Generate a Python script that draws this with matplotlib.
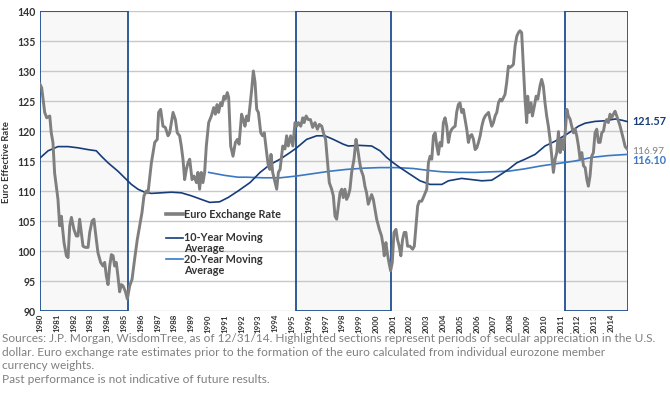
import matplotlib
matplotlib.use("Agg")
import matplotlib.pyplot as plt
from matplotlib.lines import Line2D

# Euro exchange rate (monthly-ish readings, decimal year)
rate_years = [1980.0, 1980.1, 1980.28, 1980.4, 1980.58, 1980.67, 1980.77, 1980.87, 1981.07, 1981.17,
              1981.27, 1981.43, 1981.57, 1981.67, 1981.77, 1981.87, 1982.02, 1982.16, 1982.26, 1982.36,
              1982.46, 1982.56, 1982.7, 1982.86, 1982.96, 1983.1, 1983.21, 1983.3, 1983.45, 1983.61,
              1983.75, 1983.85, 1983.95, 1984.05, 1984.15, 1984.25, 1984.35, 1984.44, 1984.54, 1984.64,
              1984.74, 1984.84, 1984.94, 1985.08, 1985.2, 1985.34, 1985.48, 1985.63, 1985.79, 1985.93,
              1986.07, 1986.19, 1986.33, 1986.43, 1986.63, 1986.83, 1986.98, 1987.06, 1987.18, 1987.32,
              1987.46, 1987.62, 1987.72, 1987.82, 1987.92, 1988.06, 1988.17, 1988.31, 1988.41, 1988.51,
              1988.61, 1988.71, 1988.81, 1988.91, 1989.05, 1989.17, 1989.31, 1989.4, 1989.5, 1989.6,
              1989.7, 1989.8, 1989.9, 1990.04, 1990.2, 1990.34, 1990.44, 1990.54, 1990.63, 1990.75,
              1990.83, 1990.95, 1991.03, 1991.15, 1991.23, 1991.35, 1991.49, 1991.63, 1991.75, 1991.85,
              1992.0, 1992.1, 1992.2, 1992.3, 1992.4, 1992.5, 1992.6, 1992.7, 1992.8, 1992.9,
              1993.0, 1993.14, 1993.25, 1993.35, 1993.49, 1993.59, 1993.68, 1993.75, 1993.85, 1993.95,
              1994.09, 1994.19, 1994.29, 1994.45, 1994.58, 1994.68, 1994.78, 1994.92, 1995.05, 1995.18,
              1995.28, 1995.38, 1995.52, 1995.64, 1995.72, 1995.84, 1995.97, 1996.1, 1996.23, 1996.37,
              1996.51, 1996.63, 1996.77, 1996.87, 1997.0, 1997.1, 1997.22, 1997.36, 1997.46, 1997.56,
              1997.66, 1997.76, 1997.86, 1997.96, 1998.05, 1998.15, 1998.25, 1998.35, 1998.45, 1998.55,
              1998.69, 1998.81, 1998.91, 1999.0, 1999.1, 1999.24, 1999.34, 1999.44, 1999.54, 1999.64,
              1999.74, 1999.84, 1999.94, 2000.04, 2000.2, 2000.33, 2000.43, 2000.49, 2000.59, 2000.67,
              2000.77, 2000.87, 2000.97, 2001.07, 2001.19, 2001.28, 2001.38, 2001.48, 2001.58, 2001.68,
              2001.78, 2001.88, 2002.02, 2002.18, 2002.28, 2002.38, 2002.48, 2002.58, 2002.72, 2002.86,
              2003.02, 2003.12, 2003.22, 2003.32, 2003.42, 2003.52, 2003.62, 2003.71, 2003.81, 2003.91,
              2004.01, 2004.11, 2004.21, 2004.31, 2004.41, 2004.51, 2004.61, 2004.71, 2004.8, 2004.9,
              2005.0, 2005.1, 2005.2, 2005.3, 2005.4, 2005.5, 2005.6, 2005.7, 2005.8, 2005.9,
              2006.0, 2006.1, 2006.2, 2006.3, 2006.4, 2006.5, 2006.6, 2006.7, 2006.79, 2006.89,
              2006.99, 2007.09, 2007.19, 2007.29, 2007.39, 2007.49, 2007.59, 2007.68, 2007.78, 2007.88,
              2007.98, 2008.08, 2008.18, 2008.28, 2008.38, 2008.48, 2008.57, 2008.67, 2008.77, 2008.87,
              2008.97, 2009.03, 2009.11, 2009.23, 2009.31, 2009.43, 2009.53, 2009.63, 2009.76, 2009.86,
              2009.96, 2010.06, 2010.16, 2010.26, 2010.36, 2010.46, 2010.56, 2010.66, 2010.76, 2010.86,
              2010.96, 2011.06, 2011.16, 2011.26, 2011.36, 2011.45, 2011.55, 2011.65, 2011.75, 2011.85,
              2011.95, 2012.05, 2012.15, 2012.25, 2012.35, 2012.45, 2012.55, 2012.64, 2012.74, 2012.84,
              2012.94, 2013.04, 2013.14, 2013.24, 2013.34, 2013.44, 2013.54, 2013.63, 2013.73, 2013.83,
              2013.93, 2014.03, 2014.13, 2014.23, 2014.33, 2014.43, 2014.53, 2014.63, 2014.73, 2014.83,
              2014.96]
rate_values = [127.8, 127.2, 123.1, 122.2, 122.5, 119.7, 118.1, 113.0, 108.6, 104.2,
               105.8, 101.4, 99.2, 98.9, 104.2, 105.6, 103.6, 102.5, 102.5, 105.3,
               103.1, 100.8, 100.6, 100.6, 103.1, 105.0, 105.3, 103.1, 99.7, 98.1,
               97.5, 98.1, 95.8, 94.4, 97.5, 99.4, 99.2, 97.5, 98.1, 95.8,
               93.2, 94.4, 94.2, 93.3, 92.0, 94.2, 95.3, 98.6, 101.9, 104.2,
               106.4, 109.2, 110.0, 109.7, 114.7, 118.1, 118.6, 123.1, 123.6, 120.8,
               120.6, 119.2, 119.7, 121.4, 123.1, 121.9, 119.7, 119.2, 117.5, 115.3,
               111.9, 113.6, 114.7, 115.3, 111.9, 112.5, 111.4, 113.1, 110.3, 113.1,
               111.4, 113.1, 117.5, 121.4, 122.5, 123.9, 122.8, 124.4, 123.1, 124.7,
               124.2, 125.8, 125.3, 126.4, 125.6, 117.5, 115.8, 118.1, 118.6, 117.8,
               122.8, 121.9, 120.8, 122.5, 121.7, 124.2, 126.9, 130.0, 128.1, 123.6,
               123.1, 119.7, 119.2, 119.7, 116.4, 114.2, 113.6, 116.1, 113.1, 111.9,
               110.3, 113.1, 113.6, 117.5, 117.0, 119.2, 117.5, 119.2, 117.5, 121.4,
               120.8, 121.4, 120.8, 122.2, 121.4, 122.5, 121.9, 121.9, 120.6, 121.4,
               120.3, 121.1, 120.8, 119.7, 118.6, 115.3, 111.4, 110.3, 109.2, 105.8,
               105.3, 107.5, 109.7, 110.3, 108.9, 110.3, 108.6, 109.2, 110.3, 113.1,
               115.3, 118.6, 117.0, 115.3, 113.6, 112.5, 110.8, 109.7, 107.8, 108.6,
               109.4, 108.6, 106.9, 105.3, 103.6, 102.5, 100.8, 99.2, 101.4, 99.7,
               98.1, 96.7, 98.1, 103.1, 103.6, 101.9, 100.8, 99.2, 101.9, 103.1,
               103.1, 100.8, 100.8, 100.3, 100.8, 104.2, 107.5, 108.3, 108.3, 109.2,
               110.3, 114.7, 115.8, 115.3, 119.2, 119.7, 117.5, 116.1, 118.1, 117.5,
               121.4, 122.2, 120.8, 118.1, 119.7, 120.3, 120.6, 120.8, 123.1, 124.4,
               124.7, 123.1, 123.6, 121.9, 120.3, 118.1, 119.2, 119.4, 118.6, 116.9,
               117.2, 118.1, 119.2, 120.8, 121.9, 122.5, 122.8, 123.1, 121.9, 120.8,
               121.4, 122.5, 123.1, 124.7, 125.3, 125.0, 125.6, 126.1, 128.1, 130.8,
               130.6, 130.8, 131.1, 134.2, 135.8, 136.4, 136.7, 136.4, 130.8, 125.3,
               121.4, 125.8, 123.1, 124.7, 122.5, 124.2, 125.8, 125.3, 127.5, 128.6,
               127.5, 124.7, 122.5, 120.8, 118.6, 115.8, 113.1, 115.3, 116.4, 119.9,
               116.4, 118.6, 116.9, 119.7, 123.6, 122.5, 122.0, 120.8, 119.7, 120.3,
               119.2, 117.5, 115.3, 116.4, 114.2, 113.9, 111.9, 110.8, 112.5, 115.8,
               116.4, 119.7, 120.3, 118.1, 118.1, 119.7, 120.0, 121.4, 121.9, 121.4,
               122.8, 122.2, 122.8, 123.3, 122.5, 121.7, 120.8, 119.7, 118.6, 117.4,
               116.97]

# 10-year moving average
ma10_years = [1980.0, 1980.48, 1981.07, 1981.67, 1982.26, 1982.86, 1983.35, 1983.65, 1984.05, 1984.64,
              1985.04, 1985.44, 1985.83, 1986.23, 1986.63, 1987.22, 1987.82, 1988.41, 1989.01, 1989.6,
              1990.1, 1990.69, 1991.19, 1991.79, 1992.5, 1993.1, 1993.69, 1994.29, 1994.88, 1995.28,
              1995.87, 1996.47, 1996.96, 1997.46, 1998.05, 1998.35, 1999.04, 1999.74, 2000.24, 2000.63,
              2001.03, 2001.43, 2002.02, 2002.62, 2003.21, 2003.92, 2004.31, 2005.1, 2005.7, 2006.3,
              2006.89, 2007.29, 2007.88, 2008.38, 2008.87, 2009.47, 2010.06, 2010.66, 2011.26, 2011.65,
              2012.05, 2012.45, 2013.04, 2013.63, 2014.23, 2014.63, 2014.96]
ma10_values = [115.5, 116.7, 117.4, 117.4, 117.2, 116.9, 116.7, 115.8, 114.7, 113.3,
               112.2, 111.1, 110.3, 109.8, 109.6, 109.7, 109.8, 109.7, 109.2, 108.6,
               108.1, 108.2, 108.9, 110.0, 111.4, 113.1, 114.4, 115.3, 116.4, 117.2,
               118.6, 119.2, 119.2, 118.6, 117.8, 117.5, 117.6, 117.5, 116.7, 115.6,
               114.7, 113.9, 112.8, 111.7, 111.1, 111.1, 111.7, 112.1, 111.9, 111.7,
               111.8, 112.5, 113.6, 114.7, 115.3, 116.1, 117.5, 118.3, 119.3, 120.0,
               120.8, 121.3, 121.6, 121.7, 122.0, 121.8, 121.57]

# 20-year moving average
ma20_years = [1990.04, 1991.0, 1991.79, 1992.3, 1993.29, 1994.29, 1995.28, 1996.27, 1997.26, 1998.25,
              1999.24, 2000.24, 2001.23, 2002.22, 2003.21, 2003.92, 2004.9, 2005.9, 2006.89, 2007.88,
              2008.87, 2009.86, 2010.86, 2011.85, 2012.84, 2013.83, 2014.96]
ma20_values = [113.1, 112.6, 112.3, 112.3, 112.2, 112.2, 112.5, 112.9, 113.3, 113.6,
               113.8, 113.9, 113.9, 113.75, 113.4, 113.2, 113.1, 113.1, 113.2, 113.3,
               113.7, 114.2, 114.6, 115.0, 115.6, 115.9, 116.10]

# periods of USD appreciation (highlighted)
box_starts = [1980.0, 1995.22, 2011.27]
box_ends = [1985.23, 2000.87, 2015.0]

year_ticks = list(range(1980, 2015))
y_ticks = list(range(90, 141, 5))

GRAY = "#7f7f7f"
NAVY = "#163d7a"
LBLUE = "#3b78c4"
BOXC = "#1f4f8f"
TXT = "#333333"
FONT = "Lato"

fig = plt.figure(figsize=(6.7, 4.14), dpi=100)
ax = fig.add_axes([40 / 670, 1 - 312 / 414, 588 / 670, 300 / 414])

for s, e in zip(box_starts, box_ends):
    ax.axvspan(s, e, facecolor="#f8f8f8", edgecolor="none", zorder=0.2)
    ax.axvspan(s, e, facecolor="none", edgecolor=BOXC, lw=1.3, zorder=2)

ax.set_axisbelow(True)
ax.yaxis.grid(True, color="#c8c8c8", lw=1.0)

ax.plot(ma20_years, ma20_values, color=LBLUE, lw=1.2, zorder=3)
ax.plot(ma10_years, ma10_values, color=NAVY, lw=1.2, zorder=3)
ax.plot(rate_years, rate_values, color=GRAY, lw=2.1, zorder=4)

ax.set_xlim(1980, 2015)
ax.set_ylim(90, 140)
ax.set_xticks(year_ticks)
ax.set_xticklabels([str(y) for y in year_ticks], rotation=90, fontsize=5.7,
                   fontweight="bold", color=TXT, family=FONT)
ax.set_yticks(y_ticks)
ax.set_yticklabels([str(v) for v in y_ticks], fontsize=7.6, fontweight="bold", color=TXT, family=FONT)
ax.tick_params(axis="both", length=0, pad=3)
ax.tick_params(axis="x", pad=1.5)
for sp in ax.spines.values():
    sp.set_visible(False)
ax.set_ylabel("Euro Effective Rate", fontsize=6.8, fontweight="bold", color=TXT, labelpad=5, family=FONT)

# legend drawn by hand so handles line up with first text line
leg_items = [("Euro Exchange Rate", GRAY, 2.6, 0.322),
             ("10-Year Moving\nAverage", NAVY, 1.2, 0.245),
             ("20-Year Moving\nAverage", LBLUE, 1.2, 0.172)]
for label, c, w, yy in leg_items:
    ax.add_line(Line2D([0.214, 0.243], [yy, yy], transform=ax.transAxes, color=c, lw=w, zorder=5))
    ax.text(0.245, yy + 0.022, label, transform=ax.transAxes, fontsize=7.8, color=TXT,
            va="top", ha="left", linespacing=1.0, zorder=5, fontweight="bold", family=FONT)

# end labels
ax.text(2015.25, 121.8, "121.57", fontsize=7.8, color=NAVY, fontweight="bold", va="center",
        clip_on=False, family=FONT)
ax.text(2015.25, 116.75, "116.97", fontsize=7.3, color=GRAY, va="center", clip_on=False, family=FONT)
ax.text(2015.25, 115.25, "116.10", fontsize=7.8, color=LBLUE, fontweight="bold", va="center",
        clip_on=False, family=FONT)

footer = ("Sources: J.P. Morgan, WisdomTree, as of 12/31/14. Highlighted sections represent periods of secular appreciation in the U.S.\n"
          "dollar. Euro exchange rate estimates prior to the formation of the euro calculated from individual eurozone member\n"
          "currency weights.\n"
          "Past performance is not indicative of future results.")
fig.text(2 / 670, 1 - 333 / 414, footer, fontsize=8.6, color="#808080", va="top", ha="left",
         family=FONT, linespacing=1.3)

fig.savefig("out.png", dpi=100)
